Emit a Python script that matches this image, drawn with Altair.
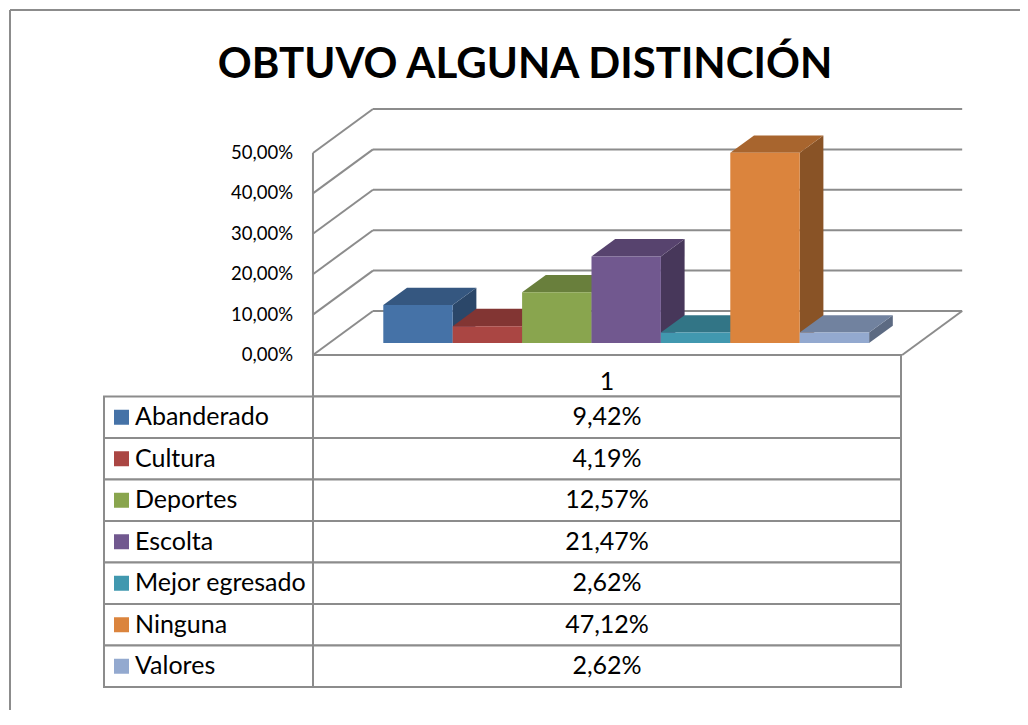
import altair as alt
import pandas as pd

# ---------------- data ----------------
categories = ["Abanderado", "Cultura", "Deportes", "Escolta",
              "Mejor egresado", "Ninguna", "Valores"]
values = [9.42, 4.19, 12.57, 21.47, 2.62, 47.12, 2.62]
axis_ticks = [0, 10, 20, 30, 40, 50]
series_label = "1"
title_text = "OBTUVO ALGUNA DISTINCIÓN"

# ---------------- style ----------------
palette = ["#4572A7", "#AA4643", "#89A54E", "#71588F", "#4198AF", "#DB843D", "#93A9CF"]
TOP_SHADE, SIDE_SHADE = 0.77, 0.63
GRID = "#8c8c8c"
FONT = "Lato"
TITLE_FONT = "Lato"

W, H = 1012, 702
CAT_PX = 69.4          # pixels per category (front plane)
PCT_PX = 4.04          # pixels per percent
X0, Y0 = 359.1, 347.0  # plot-px of category 0 / 0% on the front plane
DEPTH_X, DEPTH_Y = 60.0, 44.0   # full-depth offset in px
BAR_D0, BAR_D1 = 0.27, 0.665    # bar depth range (fraction of full depth)
FLOOR_L, FLOOR_R = 0.78, 0.71   # floor margins in categories
DXU = DEPTH_X / CAT_PX
DYU = DEPTH_Y / PCT_PX
N = len(categories)


def shade(hexc, f):
    r, g, b = (int(hexc[i:i + 2], 16) for i in (1, 3, 5))
    return "#%02x%02x%02x" % (int(r * f), int(g * f), int(b * f))


def fmt(v):
    return f"{v:.2f}".replace(".", ",") + "%"


xs = alt.Scale(domain=[0, N], range=[X0, X0 + N * CAT_PX], nice=False, zero=False)
ys = alt.Scale(domain=[0, 50], range=[Y0, Y0 - 50 * PCT_PX], nice=False, zero=False)

# ---------------- 3D geometry tables (derived from data) ----------------
front_rows, side_rows, top_rows = [], [], []
for i, (c, v, col) in enumerate(zip(categories, values, palette)):
    front_rows.append(dict(cat=c, x=i + BAR_D0 * DXU, x2=i + 1 + BAR_D0 * DXU,
                           y=BAR_D0 * DYU, y2=v + BAR_D0 * DYU, col=col))
    sc = shade(col, SIDE_SHADE)
    side_rows.append(dict(cat=c, x=i + 1 + BAR_D0 * DXU, lo=BAR_D0 * DYU, hi=v + BAR_D0 * DYU, col=sc))
    side_rows.append(dict(cat=c, x=i + 1 + BAR_D1 * DXU, lo=BAR_D1 * DYU, hi=v + BAR_D1 * DYU, col=sc))
    tc = shade(col, TOP_SHADE)
    t0, t1 = v + BAR_D0 * DYU, v + BAR_D1 * DYU
    top_rows += [
        dict(cat=c, x=i + BAR_D0 * DXU, lo=t0, hi=t0, col=tc),
        dict(cat=c, x=i + BAR_D1 * DXU, lo=t0, hi=t1, col=tc),
        dict(cat=c, x=i + 1 + BAR_D0 * DXU, lo=t0, hi=t1, col=tc),
        dict(cat=c, x=i + 1 + BAR_D1 * DXU, lo=t1, hi=t1, col=tc),
    ]
front_df = pd.DataFrame(front_rows)
side_df = pd.DataFrame(side_rows)
top_df = pd.DataFrame(top_rows)

xl, xr = -FLOOR_L, N + FLOOR_R
seg = []
for t in axis_ticks:
    seg.append(dict(x=xl + DXU, x2=xr + DXU, y=t + DYU, y2=t + DYU))   # back wall
    seg.append(dict(x=xl, x2=xl + DXU, y=t, y2=t + DYU))               # side wall
seg.append(dict(x=xl, x2=xl, y=0, y2=axis_ticks[-1]))                  # front left edge
seg.append(dict(x=xl, x2=xr, y=0, y2=0))                               # floor front
seg.append(dict(x=xr, x2=xr + DXU, y=0, y2=DYU))                       # floor right
seg_df = pd.DataFrame(seg)

tick_df = pd.DataFrame(dict(x=[xl] * len(axis_ticks), t=axis_ticks,
                            lab=[fmt(t) for t in axis_ticks]))

X = lambda f: alt.X(f, scale=xs, axis=None)
Y = lambda f: alt.Y(f, scale=ys, axis=None, stack=None)

grid = alt.Chart(seg_df).mark_rule(color=GRID, strokeWidth=2).encode(
    x=X("x:Q"), x2="x2:Q", y=Y("y:Q"), y2="y2:Q")
sides = alt.Chart(side_df).mark_area(opacity=1).encode(
    x=X("x:Q"), y=Y("hi:Q"), y2="lo:Q", detail="cat:N",
    color=alt.Color("col:N", scale=None))
tops = alt.Chart(top_df).mark_area(opacity=1).encode(
    x=X("x:Q"), y=Y("hi:Q"), y2="lo:Q", detail="cat:N",
    color=alt.Color("col:N", scale=None))
fronts = alt.Chart(front_df).mark_rect().encode(
    x=X("x:Q"), x2="x2:Q", y=Y("y:Q"), y2="y2:Q",
    color=alt.Color("col:N", scale=None))
ticks = alt.Chart(tick_df).mark_text(align="right", baseline="middle", dx=-20,
                                     font=FONT, fontSize=18.5, color="black").encode(
    x=X("x:Q"), y=Y("t:Q"), text="lab:N")

plot3d = alt.layer(grid, sides, tops, fronts, ticks)

# ---------------- data table ----------------
rows = ["__header__"] + categories
tab_df = pd.DataFrame(dict(row=categories, lab=categories,
                           val=[fmt(v) for v in values], col=palette))
head_df = pd.DataFrame(dict(row=["__header__"], lab=[series_label]))
yb = alt.Scale(domain=rows, range=[347, 679], paddingInner=0, paddingOuter=0)
YB = alt.Y("row:N", scale=yb, axis=None)

cells_l = alt.Chart(tab_df).mark_rect(fill="white", stroke=GRID, strokeWidth=2).encode(
    y=YB, x=alt.value(96), x2=alt.value(305))
cells_r = alt.Chart(pd.concat([head_df, tab_df])).mark_rect(
    fill="white", stroke=GRID, strokeWidth=2).encode(
    y=YB, x=alt.value(305), x2=alt.value(893))
squares = alt.Chart(tab_df).mark_square(size=225, opacity=1).encode(
    y=YB, x=alt.value(113.5), color=alt.Color("col:N", scale=None))
labels = alt.Chart(tab_df).mark_text(align="left", baseline="middle", font=FONT,
                                     fontSize=25, color="black").encode(
    y=YB, x=alt.value(127), text="lab:N")
vals = alt.Chart(tab_df).mark_text(align="center", baseline="middle", font=FONT,
                                   fontSize=25, color="black").encode(
    y=YB, x=alt.value(599), text="val:N")
head = alt.Chart(head_df).mark_text(align="center", baseline="middle", font=FONT,
                                    fontSize=25, color="black", dy=6).encode(
    y=YB, x=alt.value(599), text="lab:N")
table = alt.layer(cells_l, cells_r, squares, labels, vals, head)

# ---------------- frame & title ----------------
frame_df = pd.DataFrame(dict(k=["top", "left"]))
frame_top = alt.Chart(frame_df).transform_filter("datum.k == 'top'").mark_rule(
    color=GRID, strokeWidth=2).encode(x=alt.value(2), x2=alt.value(W), y=alt.value(2), y2=alt.value(2))
frame_left = alt.Chart(frame_df).transform_filter("datum.k == 'left'").mark_rule(
    color=GRID, strokeWidth=2).encode(x=alt.value(2), x2=alt.value(2), y=alt.value(2), y2=alt.value(H))
title = alt.Chart(pd.DataFrame(dict(t=[title_text]))).mark_text(
    align="center", baseline="alphabetic", font=TITLE_FONT, fontSize=42,
    fontWeight="bold", color="black").encode(
    x=alt.value(517), y=alt.value(70), text="t:N")

chart = alt.layer(frame_top, frame_left, title, plot3d, table).resolve_scale(
    x="independent", y="independent").properties(
    width=W, height=H, padding=0,
    autosize=alt.AutoSizeParams(type="none"),
    background="white").configure_view(stroke=None)

chart.save("out.html", embed_options={"renderer": "svg", "actions": False})
